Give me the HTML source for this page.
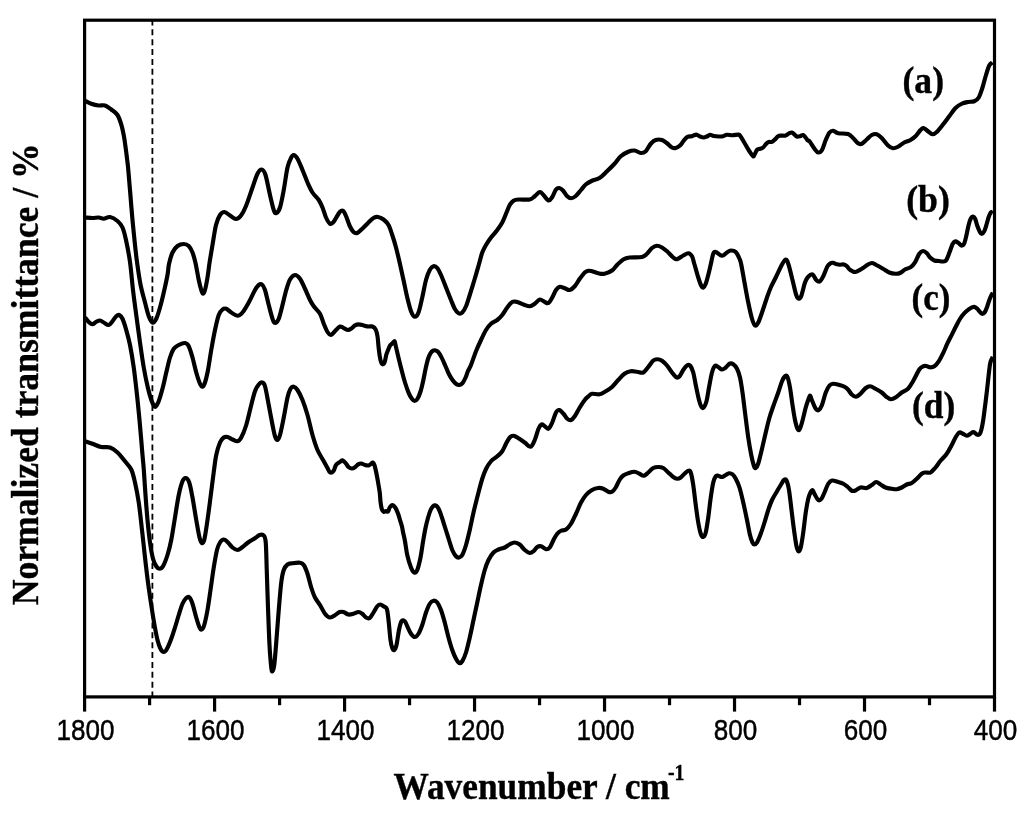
<!DOCTYPE html>
<html><head><meta charset="utf-8"><title>FTIR spectra</title>
<style>
html,body{margin:0;padding:0;background:#fff;}
svg{display:block;}
.ax{stroke:#000;stroke-width:3.2;fill:none;stroke-linecap:butt;}
.cv path{stroke:#000;stroke-width:4.15;fill:none;stroke-linejoin:round;stroke-linecap:butt;}
.tk text{font-family:"Liberation Sans",Arial,sans-serif;font-size:30px;fill:#000;stroke:#000;stroke-width:0.45px;}
.lb text{font-family:"Liberation Serif","Times New Roman",serif;font-weight:bold;font-size:38.3px;fill:#000;stroke:#000;stroke-width:0.4px;}
.lb text.cl{font-size:37.5px;}
</style></head><body>
<svg width="1024" height="819" viewBox="0 0 1024 819">
<rect x="0" y="0" width="1024" height="819" fill="#fff"/>
<line x1="152.4" y1="19.4" x2="152.4" y2="696.9" stroke="#000" stroke-width="1.8" stroke-dasharray="6 3.885"/>
<g class="cv">
<path d="M85.00,100.80C86.04,101.29 88.96,102.97 91.25,103.75C93.54,104.53 96.46,105.21 98.75,105.50C101.04,105.79 102.92,104.83 105.00,105.50C107.08,106.17 109.17,107.92 111.25,109.50C113.33,111.08 115.79,112.37 117.50,115.00C119.21,117.63 120.42,121.70 121.50,125.30C122.58,128.90 123.32,132.90 124.00,136.60C124.68,140.30 125.07,143.60 125.60,147.50C126.13,151.40 126.75,156.25 127.20,160.00C127.65,163.75 127.80,164.58 128.30,170.00C128.80,175.42 129.50,184.17 130.20,192.50C130.90,200.83 131.70,211.25 132.50,220.00C133.30,228.75 134.22,237.75 135.00,245.00C135.78,252.25 136.27,256.83 137.20,263.50C138.13,270.17 139.30,278.50 140.60,285.00C141.90,291.50 143.64,297.29 145.00,302.50C146.36,307.71 147.50,312.92 148.75,316.25C150.00,319.58 151.25,322.08 152.50,322.50C153.75,322.92 155.00,321.25 156.25,318.75C157.50,316.25 158.75,311.88 160.00,307.50C161.25,303.12 162.50,297.92 163.75,292.50C165.00,287.08 166.62,279.75 167.50,275.00C168.38,270.25 168.17,267.75 169.00,264.00C169.83,260.25 171.08,255.50 172.50,252.50C173.92,249.50 175.62,247.42 177.50,246.00C179.38,244.58 181.88,244.00 183.75,244.00C185.62,244.00 187.29,244.58 188.75,246.00C190.21,247.42 191.38,249.67 192.50,252.50C193.62,255.33 194.46,258.42 195.50,263.00C196.54,267.58 197.79,275.50 198.75,280.00C199.71,284.50 200.54,287.71 201.25,290.00C201.96,292.29 202.38,293.75 203.00,293.75C203.62,293.75 204.25,292.71 205.00,290.00C205.75,287.29 206.75,282.00 207.50,277.50C208.25,273.00 208.67,268.42 209.50,263.00C210.33,257.58 211.42,251.33 212.50,245.00C213.58,238.67 214.75,230.00 216.00,225.00C217.25,220.00 218.58,217.17 220.00,215.00C221.42,212.83 222.83,211.92 224.50,212.00C226.17,212.08 228.08,214.33 230.00,215.50C231.92,216.67 234.17,219.00 236.00,219.00C237.83,219.00 239.33,217.67 241.00,215.50C242.67,213.33 244.08,210.67 246.00,206.00C247.92,201.33 250.58,192.88 252.50,187.50C254.42,182.12 255.96,176.75 257.50,173.75C259.04,170.75 260.42,169.29 261.75,169.50C263.08,169.71 264.12,170.75 265.50,175.00C266.88,179.25 268.62,189.17 270.00,195.00C271.38,200.83 272.71,207.00 273.75,210.00C274.79,213.00 275.21,213.42 276.25,213.00C277.29,212.58 278.75,211.33 280.00,207.50C281.25,203.67 282.50,196.67 283.75,190.00C285.00,183.33 286.25,172.92 287.50,167.50C288.75,162.08 290.21,159.58 291.25,157.50C292.29,155.42 292.71,154.79 293.75,155.00C294.79,155.21 296.04,156.25 297.50,158.75C298.96,161.25 300.83,166.04 302.50,170.00C304.17,173.96 305.83,178.75 307.50,182.50C309.17,186.25 310.62,189.58 312.50,192.50C314.38,195.42 317.08,197.50 318.75,200.00C320.42,202.50 321.29,204.58 322.50,207.50C323.71,210.42 324.75,214.79 326.00,217.50C327.25,220.21 328.83,222.92 330.00,223.75C331.17,224.58 332.00,223.46 333.00,222.50C334.00,221.54 334.88,219.75 336.00,218.00C337.12,216.25 338.58,213.21 339.75,212.00C340.92,210.79 341.96,210.08 343.00,210.75C344.04,211.42 344.88,213.46 346.00,216.00C347.12,218.54 348.50,223.33 349.75,226.00C351.00,228.67 352.25,230.83 353.50,232.00C354.75,233.17 355.79,233.54 357.25,233.00C358.71,232.46 360.38,230.50 362.25,228.75C364.12,227.00 366.62,224.29 368.50,222.50C370.38,220.71 371.92,218.92 373.50,218.00C375.08,217.08 376.33,216.75 378.00,217.00C379.67,217.25 381.75,218.17 383.50,219.50C385.25,220.83 387.04,222.42 388.50,225.00C389.96,227.58 391.00,231.25 392.25,235.00C393.50,238.75 394.75,242.83 396.00,247.50C397.25,252.17 398.50,257.58 399.75,263.00C401.00,268.42 402.25,274.25 403.50,280.00C404.75,285.75 406.00,292.29 407.25,297.50C408.50,302.71 409.75,308.04 411.00,311.25C412.25,314.46 413.50,316.54 414.75,316.75C416.00,316.96 417.25,315.71 418.50,312.50C419.75,309.29 421.00,302.92 422.25,297.50C423.50,292.08 424.75,284.58 426.00,280.00C427.25,275.42 428.50,272.29 429.75,270.00C431.00,267.71 432.25,266.58 433.50,266.25C434.75,265.92 436.00,266.54 437.25,268.00C438.50,269.46 439.54,271.75 441.00,275.00C442.46,278.25 444.33,283.33 446.00,287.50C447.67,291.67 449.54,296.46 451.00,300.00C452.46,303.54 453.50,306.54 454.75,308.75C456.00,310.96 457.25,312.62 458.50,313.25C459.75,313.88 461.00,313.67 462.25,312.50C463.50,311.33 464.75,309.17 466.00,306.25C467.25,303.33 468.29,299.58 469.75,295.00C471.21,290.42 473.21,283.92 474.75,278.75C476.29,273.58 477.75,268.38 479.00,264.00C480.25,259.62 481.08,255.67 482.25,252.50C483.42,249.33 484.54,247.50 486.00,245.00C487.46,242.50 489.12,240.00 491.00,237.50C492.88,235.00 495.38,232.50 497.25,230.00C499.12,227.50 500.79,225.21 502.25,222.50C503.71,219.79 504.75,216.67 506.00,213.75C507.25,210.83 508.50,207.17 509.75,205.00C511.00,202.83 512.04,201.67 513.50,200.75C514.96,199.83 515.79,199.71 518.50,199.50C521.21,199.29 527.04,200.04 529.75,199.50C532.46,198.96 533.08,197.50 534.75,196.25C536.42,195.00 538.29,192.21 539.75,192.00C541.21,191.79 542.04,193.58 543.50,195.00C544.96,196.42 547.04,200.17 548.50,200.50C549.96,200.83 551.00,198.83 552.25,197.00C553.50,195.17 554.83,191.00 556.00,189.50C557.17,188.00 558.08,187.83 559.25,188.00C560.42,188.17 561.67,189.12 563.00,190.50C564.33,191.88 565.92,194.96 567.25,196.25C568.58,197.54 569.62,198.25 571.00,198.25C572.38,198.25 573.83,197.62 575.50,196.25C577.17,194.88 579.25,192.00 581.00,190.00C582.75,188.00 584.17,185.79 586.00,184.25C587.83,182.71 589.75,181.79 592.00,180.75C594.25,179.71 597.00,179.58 599.50,178.00C602.00,176.42 604.50,173.62 607.00,171.25C609.50,168.88 612.21,166.25 614.50,163.75C616.79,161.25 618.46,158.25 620.75,156.25C623.04,154.25 625.96,152.71 628.25,151.75C630.54,150.79 632.42,150.29 634.50,150.50C636.58,150.71 638.88,152.88 640.75,153.00C642.62,153.12 644.08,152.79 645.75,151.25C647.42,149.71 649.08,145.62 650.75,143.75C652.42,141.88 653.88,140.62 655.75,140.00C657.62,139.38 660.12,139.46 662.00,140.00C663.88,140.54 665.33,142.00 667.00,143.25C668.67,144.50 670.54,146.71 672.00,147.50C673.46,148.29 674.42,148.32 675.75,148.00C677.08,147.68 678.67,146.83 680.00,145.60C681.33,144.37 682.50,142.05 683.75,140.60C685.00,139.15 686.14,137.62 687.50,136.90C688.86,136.18 690.44,136.63 691.90,136.25C693.36,135.87 694.90,134.56 696.25,134.60C697.60,134.64 698.75,136.02 700.00,136.50C701.25,136.98 702.60,137.50 703.75,137.50C704.90,137.50 705.86,136.96 706.90,136.50C707.94,136.04 708.86,134.83 710.00,134.75C711.14,134.67 712.29,135.71 713.75,136.00C715.21,136.29 717.19,136.46 718.75,136.50C720.31,136.54 721.74,136.54 723.10,136.25C724.46,135.96 725.33,134.92 726.90,134.75C728.47,134.58 730.57,135.28 732.50,135.25C734.43,135.22 737.15,134.41 738.50,134.60C739.85,134.79 739.52,134.88 740.60,136.40C741.68,137.93 743.53,141.28 745.00,143.75C746.47,146.22 748.05,149.17 749.40,151.25C750.75,153.33 752.17,155.83 753.10,156.25C754.03,156.67 754.37,154.79 755.00,153.75C755.63,152.71 756.07,150.83 756.90,150.00C757.73,149.17 758.97,149.17 760.00,148.75C761.03,148.33 762.06,148.33 763.10,147.50C764.14,146.67 765.31,144.68 766.25,143.75C767.19,142.82 767.81,142.21 768.75,141.90C769.69,141.59 770.86,142.32 771.90,141.90C772.94,141.48 773.97,140.34 775.00,139.40C776.03,138.46 777.06,136.88 778.10,136.25C779.14,135.62 780.00,135.71 781.25,135.60C782.50,135.49 784.35,135.95 785.60,135.60C786.85,135.25 787.70,134.02 788.75,133.50C789.80,132.98 790.96,132.35 791.90,132.50C792.84,132.65 793.57,133.73 794.40,134.40C795.23,135.07 795.97,136.19 796.90,136.50C797.83,136.81 798.97,136.50 800.00,136.25C801.03,136.00 802.17,134.79 803.10,135.00C804.03,135.21 804.80,136.57 805.60,137.50C806.40,138.43 807.25,139.97 807.90,140.60C808.55,141.22 808.40,139.89 809.50,141.25C810.60,142.61 813.04,146.88 814.50,148.75C815.96,150.62 817.00,152.29 818.25,152.50C819.50,152.71 820.75,152.08 822.00,150.00C823.25,147.92 824.50,142.92 825.75,140.00C827.00,137.08 828.25,134.04 829.50,132.50C830.75,130.96 831.79,130.62 833.25,130.75C834.71,130.88 835.79,132.71 838.25,133.25C840.71,133.79 845.54,133.21 848.00,134.00C850.46,134.79 851.33,136.46 853.00,138.00C854.67,139.54 856.54,142.29 858.00,143.25C859.46,144.21 860.29,144.38 861.75,143.75C863.21,143.12 865.08,140.96 866.75,139.50C868.42,138.04 870.08,135.88 871.75,135.00C873.42,134.12 875.08,133.75 876.75,134.25C878.42,134.75 879.88,136.12 881.75,138.00C883.62,139.88 886.12,143.79 888.00,145.50C889.88,147.21 891.33,148.04 893.00,148.25C894.67,148.46 896.12,147.71 898.00,146.75C899.88,145.79 902.17,143.62 904.25,142.50C906.33,141.38 908.62,141.04 910.50,140.00C912.38,138.96 913.83,137.92 915.50,136.25C917.17,134.58 919.17,131.38 920.50,130.00C921.83,128.62 922.25,127.79 923.50,128.00C924.75,128.21 926.50,130.21 928.00,131.25C929.50,132.29 931.04,134.12 932.50,134.25C933.96,134.38 935.00,133.62 936.75,132.00C938.50,130.38 940.92,127.12 943.00,124.50C945.08,121.88 947.17,119.00 949.25,116.25C951.33,113.50 953.42,110.08 955.50,108.00C957.58,105.92 959.67,104.75 961.75,103.75C963.83,102.75 965.92,102.42 968.00,102.00C970.08,101.58 972.46,102.00 974.25,101.25C976.04,100.50 977.38,99.79 978.75,97.50C980.12,95.21 981.29,91.25 982.50,87.50C983.71,83.75 984.88,78.67 986.00,75.00C987.12,71.33 988.17,67.58 989.25,65.50C990.33,63.42 991.96,63.00 992.50,62.50"/>
<path d="M85.00,217.50C86.25,217.58 90.21,218.00 92.50,218.00C94.79,218.00 96.88,217.38 98.75,217.50C100.62,217.62 101.88,218.83 103.75,218.75C105.62,218.67 107.71,216.62 110.00,217.00C112.29,217.38 115.42,219.25 117.50,221.00C119.58,222.75 121.08,224.33 122.50,227.50C123.92,230.67 124.75,234.25 126.00,240.00C127.25,245.75 128.83,253.67 130.00,262.00C131.17,270.33 131.96,281.17 133.00,290.00C134.04,298.83 135.08,306.25 136.25,315.00C137.42,323.75 138.75,333.75 140.00,342.50C141.25,351.25 142.45,360.00 143.75,367.50C145.05,375.00 146.51,382.00 147.80,387.50C149.09,393.00 150.50,397.50 151.50,400.50C152.50,403.50 153.12,404.48 153.80,405.50C154.48,406.52 154.80,407.27 155.60,406.60C156.40,405.93 157.40,404.68 158.60,401.50C159.80,398.32 161.53,392.33 162.80,387.50C164.08,382.67 165.05,377.50 166.25,372.50C167.45,367.50 168.75,361.46 170.00,357.50C171.25,353.54 172.29,350.83 173.75,348.75C175.21,346.67 176.88,345.96 178.75,345.00C180.62,344.04 183.33,342.79 185.00,343.00C186.67,343.21 187.50,343.83 188.75,346.25C190.00,348.67 191.25,353.12 192.50,357.50C193.75,361.88 195.00,368.12 196.25,372.50C197.50,376.88 198.96,381.38 200.00,383.75C201.04,386.12 201.67,386.96 202.50,386.75C203.33,386.54 204.08,385.29 205.00,382.50C205.92,379.71 206.96,375.42 208.00,370.00C209.04,364.58 210.08,356.67 211.25,350.00C212.42,343.33 213.75,335.83 215.00,330.00C216.25,324.17 217.50,318.42 218.75,315.00C220.00,311.58 221.25,310.54 222.50,309.50C223.75,308.46 224.79,308.25 226.25,308.75C227.71,309.25 229.38,311.33 231.25,312.50C233.12,313.67 235.62,315.75 237.50,315.75C239.38,315.75 240.62,314.71 242.50,312.50C244.38,310.29 246.67,306.25 248.75,302.50C250.83,298.75 253.33,292.92 255.00,290.00C256.67,287.08 257.58,285.92 258.75,285.00C259.92,284.08 260.96,283.67 262.00,284.50C263.04,285.33 263.88,286.58 265.00,290.00C266.12,293.42 267.50,300.21 268.75,305.00C270.00,309.79 271.46,315.75 272.50,318.75C273.54,321.75 273.96,323.00 275.00,323.00C276.04,323.00 277.50,321.75 278.75,318.75C280.00,315.75 281.25,309.79 282.50,305.00C283.75,300.21 285.00,294.25 286.25,290.00C287.50,285.75 288.54,282.00 290.00,279.50C291.46,277.00 293.33,275.12 295.00,275.00C296.67,274.88 298.33,276.46 300.00,278.75C301.67,281.04 303.33,285.21 305.00,288.75C306.67,292.29 308.54,297.08 310.00,300.00C311.46,302.92 312.08,303.96 313.75,306.25C315.42,308.54 318.33,310.83 320.00,313.75C321.67,316.67 322.50,320.71 323.75,323.75C325.00,326.79 326.33,330.12 327.50,332.00C328.67,333.88 329.71,334.92 330.75,335.00C331.79,335.08 332.88,333.33 333.75,332.50C334.62,331.67 334.96,331.00 336.00,330.00C337.04,329.00 338.71,326.82 340.00,326.50C341.29,326.18 342.40,327.52 343.75,328.10C345.10,328.68 346.74,330.00 348.10,330.00C349.46,330.00 350.75,328.87 351.90,328.10C353.05,327.33 353.86,326.02 355.00,325.40C356.14,324.78 357.29,324.40 358.75,324.40C360.21,324.40 362.19,325.05 363.75,325.40C365.31,325.75 366.64,326.32 368.10,326.50C369.56,326.68 371.25,326.02 372.50,326.50C373.75,326.98 374.77,327.77 375.60,329.40C376.43,331.02 377.02,333.44 377.50,336.25C377.98,339.06 378.12,342.92 378.50,346.25C378.88,349.58 379.33,353.64 379.75,356.25C380.17,358.86 380.50,360.54 381.00,361.90C381.50,363.26 382.12,364.40 382.75,364.40C383.38,364.40 384.17,363.47 384.75,361.90C385.33,360.33 385.69,356.98 386.25,355.00C386.81,353.02 387.48,351.57 388.10,350.00C388.73,348.43 389.37,346.64 390.00,345.60C390.63,344.56 391.20,344.47 391.90,343.75C392.60,343.03 393.70,341.56 394.20,341.30C394.70,341.04 394.56,341.07 394.90,342.20C395.24,343.33 395.61,345.34 396.25,348.10C396.89,350.86 397.81,354.89 398.75,358.75C399.69,362.61 400.86,367.29 401.90,371.25C402.94,375.21 403.86,378.86 405.00,382.50C406.14,386.14 407.60,390.39 408.75,393.10C409.90,395.81 410.92,397.43 411.90,398.75C412.88,400.07 413.67,401.00 414.60,401.00C415.53,401.00 416.50,400.38 417.50,398.75C418.50,397.12 419.67,394.17 420.60,391.25C421.53,388.33 422.27,385.00 423.10,381.25C423.93,377.50 424.77,372.50 425.60,368.75C426.43,365.00 427.27,361.36 428.10,358.75C428.93,356.14 429.77,354.46 430.60,353.10C431.43,351.74 432.27,351.05 433.10,350.60C433.93,350.15 434.77,350.18 435.60,350.40C436.43,350.62 437.16,350.82 438.10,351.90C439.04,352.98 440.10,354.72 441.25,356.90C442.40,359.08 443.75,362.19 445.00,365.00C446.25,367.81 447.50,371.25 448.75,373.75C450.00,376.25 451.25,378.29 452.50,380.00C453.75,381.71 455.10,383.17 456.25,384.00C457.40,384.83 458.36,385.15 459.40,385.00C460.44,384.85 461.47,384.35 462.50,383.10C463.53,381.85 464.70,379.48 465.60,377.50C466.50,375.52 467.00,373.33 467.90,371.25C468.80,369.17 469.65,368.33 471.00,365.00C472.35,361.67 474.33,355.42 476.00,351.25C477.67,347.08 479.33,343.54 481.00,340.00C482.67,336.46 484.33,332.71 486.00,330.00C487.67,327.29 489.12,325.42 491.00,323.75C492.88,322.08 495.38,321.46 497.25,320.00C499.12,318.54 500.58,317.08 502.25,315.00C503.92,312.92 505.58,309.67 507.25,307.50C508.92,305.33 510.58,302.92 512.25,302.00C513.92,301.08 515.38,301.58 517.25,302.00C519.12,302.42 521.42,303.79 523.50,304.50C525.58,305.21 527.88,306.38 529.75,306.25C531.62,306.12 533.08,304.88 534.75,303.75C536.42,302.62 538.08,299.79 539.75,299.50C541.42,299.21 543.29,301.42 544.75,302.00C546.21,302.58 547.25,303.75 548.50,303.00C549.75,302.25 551.00,299.67 552.25,297.50C553.50,295.33 554.75,291.79 556.00,290.00C557.25,288.21 558.29,287.04 559.75,286.75C561.21,286.46 563.08,287.71 564.75,288.25C566.42,288.79 568.08,290.33 569.75,290.00C571.42,289.67 573.08,288.12 574.75,286.25C576.42,284.38 578.08,281.04 579.75,278.75C581.42,276.46 583.29,273.83 584.75,272.50C586.21,271.17 587.29,270.96 588.50,270.75C589.71,270.54 590.38,270.83 592.00,271.25C593.62,271.67 596.17,272.83 598.25,273.25C600.33,273.67 602.21,274.21 604.50,273.75C606.79,273.29 609.83,272.04 612.00,270.50C614.17,268.96 615.62,266.33 617.50,264.50C619.38,262.67 621.25,260.67 623.25,259.50C625.25,258.33 626.38,257.92 629.50,257.50C632.62,257.08 639.08,257.62 642.00,257.00C644.92,256.38 645.33,255.25 647.00,253.75C648.67,252.25 650.33,249.33 652.00,248.00C653.67,246.67 655.33,245.83 657.00,245.75C658.67,245.67 660.33,246.58 662.00,247.50C663.67,248.42 665.12,249.58 667.00,251.25C668.88,252.92 671.58,256.17 673.25,257.50C674.92,258.83 675.33,259.58 677.00,259.25C678.67,258.92 681.38,256.50 683.25,255.50C685.12,254.50 686.79,253.12 688.25,253.25C689.71,253.38 690.96,254.38 692.00,256.25C693.04,258.12 693.46,260.96 694.50,264.50C695.54,268.04 697.12,273.96 698.25,277.50C699.38,281.04 700.42,284.08 701.25,285.75C702.08,287.42 702.50,287.83 703.25,287.50C704.00,287.17 704.92,285.83 705.75,283.75C706.58,281.67 707.42,278.21 708.25,275.00C709.08,271.79 709.92,268.04 710.75,264.50C711.58,260.96 712.42,255.83 713.25,253.75C714.08,251.67 714.29,251.67 715.75,252.00C717.21,252.33 720.12,255.67 722.00,255.75C723.88,255.83 725.54,253.38 727.00,252.50C728.46,251.62 729.29,250.58 730.75,250.50C732.21,250.42 734.29,250.62 735.75,252.00C737.21,253.38 738.58,256.67 739.50,258.75C740.42,260.83 740.42,260.54 741.25,264.50C742.08,268.46 743.33,276.17 744.50,282.50C745.67,288.83 747.00,296.46 748.25,302.50C749.50,308.54 750.88,314.92 752.00,318.75C753.12,322.58 753.96,324.88 755.00,325.50C756.04,326.12 757.08,324.67 758.25,322.50C759.42,320.33 760.54,316.67 762.00,312.50C763.46,308.33 765.54,301.67 767.00,297.50C768.46,293.33 769.29,290.83 770.75,287.50C772.21,284.17 773.88,281.33 775.75,277.50C777.62,273.67 780.33,267.50 782.00,264.50C783.67,261.50 784.67,259.50 785.75,259.50C786.83,259.50 787.38,261.08 788.50,264.50C789.62,267.92 791.21,274.92 792.50,280.00C793.79,285.08 795.21,291.88 796.25,295.00C797.29,298.12 797.92,298.58 798.75,298.75C799.58,298.92 800.21,298.71 801.25,296.00C802.29,293.29 803.88,285.67 805.00,282.50C806.12,279.33 806.75,278.33 808.00,277.00C809.25,275.67 811.12,274.00 812.50,274.50C813.88,275.00 815.04,278.83 816.25,280.00C817.46,281.17 818.58,282.12 819.75,281.50C820.92,280.88 821.96,278.79 823.25,276.25C824.54,273.71 826.27,268.41 827.50,266.25C828.73,264.09 829.68,263.88 830.60,263.30C831.52,262.73 831.95,262.63 833.00,262.80C834.05,262.97 835.73,263.98 836.90,264.30C838.07,264.62 838.83,264.67 840.00,264.70C841.17,264.73 842.73,264.24 843.90,264.50C845.07,264.76 846.02,265.40 847.00,266.25C847.98,267.10 848.38,268.64 849.80,269.60C851.22,270.56 853.51,272.14 855.50,272.00C857.49,271.86 859.67,270.00 861.75,268.75C863.83,267.50 866.29,265.46 868.00,264.50C869.71,263.54 870.75,263.00 872.00,263.00C873.25,263.00 873.67,263.54 875.50,264.50C877.33,265.46 880.71,267.42 883.00,268.75C885.29,270.08 887.17,271.67 889.25,272.50C891.33,273.33 893.71,273.67 895.50,273.75C897.29,273.83 898.35,273.74 900.00,273.00C901.65,272.26 903.62,270.28 905.40,269.30C907.18,268.32 909.10,268.27 910.70,267.10C912.30,265.93 913.57,264.53 915.00,262.30C916.43,260.07 917.95,255.58 919.30,253.70C920.65,251.82 921.83,251.08 923.10,251.00C924.37,250.92 925.73,252.12 926.90,253.20C928.07,254.28 928.85,256.28 930.10,257.50C931.35,258.72 932.97,259.92 934.40,260.50C935.83,261.08 937.27,260.83 938.70,261.00C940.13,261.17 941.75,261.63 943.00,261.50C944.25,261.37 945.13,261.68 946.20,260.20C947.27,258.72 948.33,255.30 949.40,252.60C950.47,249.90 951.62,245.87 952.60,244.00C953.58,242.13 954.32,241.57 955.30,241.40C956.28,241.23 957.42,242.30 958.50,243.00C959.58,243.70 960.82,245.60 961.80,245.60C962.78,245.60 963.60,244.87 964.40,243.00C965.20,241.13 965.88,237.45 966.60,234.40C967.32,231.35 967.98,227.38 968.70,224.70C969.42,222.02 970.18,219.65 970.90,218.30C971.62,216.95 972.28,216.52 973.00,216.60C973.72,216.68 974.48,217.27 975.20,218.80C975.92,220.33 976.50,223.57 977.30,225.80C978.10,228.03 979.25,230.87 980.00,232.20C980.75,233.53 981.08,233.98 981.80,233.80C982.52,233.62 983.52,232.62 984.30,231.10C985.08,229.58 985.78,227.02 986.50,224.70C987.22,222.38 987.88,219.25 988.60,217.20C989.32,215.15 990.10,213.38 990.80,212.40C991.50,211.42 992.47,211.48 992.80,211.30"/>
<path d="M85.00,317.50C85.62,318.25 87.50,320.88 88.75,322.00C90.00,323.12 91.25,324.29 92.50,324.25C93.75,324.21 95.00,322.38 96.25,321.75C97.50,321.12 98.75,320.38 100.00,320.50C101.25,320.62 102.29,321.75 103.75,322.50C105.21,323.25 107.29,325.21 108.75,325.00C110.21,324.79 111.25,322.71 112.50,321.25C113.75,319.79 115.12,317.29 116.25,316.25C117.38,315.21 118.21,314.58 119.25,315.00C120.29,315.42 121.33,316.25 122.50,318.75C123.67,321.25 125.00,325.62 126.25,330.00C127.50,334.38 128.75,338.75 130.00,345.00C131.25,351.25 132.58,359.17 133.75,367.50C134.92,375.83 136.04,386.25 137.00,395.00C137.96,403.75 138.79,412.50 139.50,420.00C140.21,427.50 140.75,434.17 141.25,440.00C141.75,445.83 142.08,450.17 142.50,455.00C142.92,459.83 143.25,462.33 143.75,469.00C144.25,475.67 144.88,486.50 145.50,495.00C146.12,503.50 146.75,512.08 147.50,520.00C148.25,527.92 149.08,536.04 150.00,542.50C150.92,548.96 151.96,554.79 153.00,558.75C154.04,562.71 155.17,564.58 156.25,566.25C157.33,567.92 158.38,568.75 159.50,568.75C160.62,568.75 161.67,568.54 163.00,566.25C164.33,563.96 166.12,559.38 167.50,555.00C168.88,550.62 170.00,546.25 171.25,540.00C172.50,533.75 173.75,525.00 175.00,517.50C176.25,510.00 177.50,501.04 178.75,495.00C180.00,488.96 181.33,484.08 182.50,481.25C183.67,478.42 184.62,477.79 185.75,478.00C186.88,478.21 188.12,479.25 189.25,482.50C190.38,485.75 191.33,491.25 192.50,497.50C193.67,503.75 195.08,513.33 196.25,520.00C197.42,526.67 198.54,533.62 199.50,537.50C200.46,541.38 201.17,543.04 202.00,543.25C202.83,543.46 203.58,542.62 204.50,538.75C205.42,534.88 206.50,526.88 207.50,520.00C208.50,513.12 209.46,505.50 210.50,497.50C211.54,489.50 212.79,479.08 213.75,472.00C214.71,464.92 215.21,459.92 216.25,455.00C217.29,450.08 218.75,445.42 220.00,442.50C221.25,439.58 222.50,438.42 223.75,437.50C225.00,436.58 226.04,436.67 227.50,437.00C228.96,437.33 230.83,438.79 232.50,439.50C234.17,440.21 236.04,441.58 237.50,441.25C238.96,440.92 239.79,440.21 241.25,437.50C242.71,434.79 244.58,430.42 246.25,425.00C247.92,419.58 249.79,410.62 251.25,405.00C252.71,399.38 253.75,394.67 255.00,391.25C256.25,387.83 257.58,385.96 258.75,384.50C259.92,383.04 260.96,382.21 262.00,382.50C263.04,382.79 263.88,382.50 265.00,386.25C266.12,390.00 267.50,398.54 268.75,405.00C270.00,411.46 271.46,419.79 272.50,425.00C273.54,430.21 274.17,433.75 275.00,436.25C275.83,438.75 276.67,440.21 277.50,440.00C278.33,439.79 278.96,438.75 280.00,435.00C281.04,431.25 282.50,423.75 283.75,417.50C285.00,411.25 286.38,402.29 287.50,397.50C288.62,392.71 289.46,390.54 290.50,388.75C291.54,386.96 292.58,386.54 293.75,386.75C294.92,386.96 296.04,387.79 297.50,390.00C298.96,392.21 300.83,395.83 302.50,400.00C304.17,404.17 305.83,409.17 307.50,415.00C309.17,420.83 310.83,429.17 312.50,435.00C314.17,440.83 315.62,445.62 317.50,450.00C319.38,454.38 322.08,458.25 323.75,461.25C325.42,464.25 326.46,466.12 327.50,468.00C328.54,469.88 329.00,472.00 330.00,472.50C331.00,473.00 332.50,472.25 333.50,471.00C334.50,469.75 334.92,466.52 336.00,465.00C337.08,463.48 338.92,462.67 340.00,461.90C341.08,461.13 341.57,460.20 342.50,460.40C343.43,460.60 344.56,461.96 345.60,463.10C346.64,464.24 347.70,466.35 348.75,467.25C349.80,468.15 350.86,468.50 351.90,468.50C352.94,468.50 353.97,467.93 355.00,467.25C356.03,466.57 357.06,465.02 358.10,464.40C359.14,463.77 360.10,463.40 361.25,463.50C362.40,463.60 363.75,464.68 365.00,465.00C366.25,465.32 367.71,465.61 368.75,465.40C369.79,465.19 370.58,464.23 371.25,463.75C371.92,463.27 372.23,462.29 372.75,462.50C373.27,462.71 373.82,463.33 374.40,465.00C374.98,466.67 375.63,469.58 376.25,472.50C376.87,475.42 377.52,479.17 378.10,482.50C378.68,485.83 379.33,489.17 379.75,492.50C380.17,495.83 380.24,499.68 380.60,502.50C380.96,505.32 381.38,507.83 381.90,509.40C382.42,510.97 383.07,511.63 383.75,511.90C384.43,512.17 385.27,511.07 386.00,511.00C386.73,510.93 387.53,511.98 388.10,511.50C388.67,511.02 388.88,509.08 389.40,508.10C389.92,507.12 390.63,506.05 391.25,505.60C391.87,505.15 392.38,504.98 393.10,505.40C393.83,505.82 394.77,506.71 395.60,508.10C396.43,509.49 397.37,511.77 398.10,513.75C398.83,515.73 399.37,517.92 400.00,520.00C400.63,522.08 401.38,524.17 401.90,526.25C402.42,528.33 402.58,530.00 403.10,532.50C403.62,535.00 404.31,537.50 405.00,541.25C405.69,545.00 406.25,550.62 407.25,555.00C408.25,559.38 409.83,564.58 411.00,567.50C412.17,570.42 413.21,572.08 414.25,572.50C415.29,572.92 416.21,572.50 417.25,570.00C418.29,567.50 419.52,562.29 420.50,557.50C421.48,552.71 422.25,546.25 423.10,541.25C423.95,536.25 424.77,531.46 425.60,527.50C426.43,523.54 427.27,520.42 428.10,517.50C428.93,514.58 429.77,511.88 430.60,510.00C431.43,508.12 432.33,507.02 433.10,506.25C433.88,505.48 434.52,505.29 435.25,505.40C435.98,505.51 436.71,505.82 437.50,506.90C438.29,507.98 439.07,509.51 440.00,511.90C440.93,514.29 442.06,518.02 443.10,521.25C444.14,524.48 445.20,527.92 446.25,531.25C447.30,534.58 448.40,538.12 449.40,541.25C450.40,544.38 451.15,547.50 452.25,550.00C453.35,552.50 454.88,555.00 456.00,556.25C457.12,557.50 457.96,557.71 459.00,557.50C460.04,557.29 461.08,557.08 462.25,555.00C463.42,552.92 464.75,549.17 466.00,545.00C467.25,540.83 468.50,535.42 469.75,530.00C471.00,524.58 472.04,518.75 473.50,512.50C474.96,506.25 477.04,498.12 478.50,492.50C479.96,486.88 481.00,482.67 482.25,478.75C483.50,474.83 484.54,471.92 486.00,469.00C487.46,466.08 489.12,463.38 491.00,461.25C492.88,459.12 495.38,457.92 497.25,456.25C499.12,454.58 500.79,453.33 502.25,451.25C503.71,449.17 504.75,446.04 506.00,443.75C507.25,441.46 508.50,438.83 509.75,437.50C511.00,436.17 512.04,435.62 513.50,435.75C514.96,435.88 516.62,437.12 518.50,438.25C520.38,439.38 522.75,441.08 524.75,442.50C526.75,443.92 528.83,447.17 530.50,446.75C532.17,446.33 533.42,443.00 534.75,440.00C536.08,437.00 537.38,431.33 538.50,428.75C539.62,426.17 540.46,424.92 541.50,424.50C542.54,424.08 543.58,425.54 544.75,426.25C545.92,426.96 547.25,429.38 548.50,428.75C549.75,428.12 551.00,425.21 552.25,422.50C553.50,419.79 554.83,414.58 556.00,412.50C557.17,410.42 558.00,409.79 559.25,410.00C560.50,410.21 562.17,412.29 563.50,413.75C564.83,415.21 566.00,417.71 567.25,418.75C568.50,419.79 569.75,420.42 571.00,420.00C572.25,419.58 573.29,418.33 574.75,416.25C576.21,414.17 578.08,410.21 579.75,407.50C581.42,404.79 583.29,401.88 584.75,400.00C586.21,398.12 587.29,397.29 588.50,396.25C589.71,395.21 590.17,394.08 592.00,393.75C593.83,393.42 597.21,394.67 599.50,394.25C601.79,393.83 603.67,392.46 605.75,391.25C607.83,390.04 609.92,388.88 612.00,387.00C614.08,385.12 616.17,382.21 618.25,380.00C620.33,377.79 622.42,375.21 624.50,373.75C626.58,372.29 628.67,371.58 630.75,371.25C632.83,370.92 634.92,371.54 637.00,371.75C639.08,371.96 641.38,373.29 643.25,372.50C645.12,371.71 646.58,369.00 648.25,367.00C649.92,365.00 651.71,361.79 653.25,360.50C654.79,359.21 656.04,359.21 657.50,359.25C658.96,359.29 660.42,359.71 662.00,360.75C663.58,361.79 665.33,363.54 667.00,365.50C668.67,367.46 670.42,370.50 672.00,372.50C673.58,374.50 675.25,376.88 676.50,377.50C677.75,378.12 678.38,377.50 679.50,376.25C680.62,375.00 682.00,371.79 683.25,370.00C684.50,368.21 685.83,366.21 687.00,365.50C688.17,364.79 689.21,364.58 690.25,365.75C691.29,366.92 692.33,369.29 693.25,372.50C694.17,375.71 694.79,380.42 695.75,385.00C696.71,389.58 698.04,396.33 699.00,400.00C699.96,403.67 700.71,405.75 701.50,407.00C702.29,408.25 702.92,408.46 703.75,407.50C704.58,406.54 705.62,404.58 706.50,401.25C707.38,397.92 708.08,392.29 709.00,387.50C709.92,382.71 711.00,376.12 712.00,372.50C713.00,368.88 713.96,366.67 715.00,365.75C716.04,364.83 717.08,366.38 718.25,367.00C719.42,367.62 720.75,369.42 722.00,369.50C723.25,369.58 724.50,368.46 725.75,367.50C727.00,366.54 728.25,364.29 729.50,363.75C730.75,363.21 732.00,363.42 733.25,364.25C734.50,365.08 735.88,366.54 737.00,368.75C738.12,370.96 739.08,373.54 740.00,377.50C740.92,381.46 741.67,386.67 742.50,392.50C743.33,398.33 744.04,405.00 745.00,412.50C745.96,420.00 747.21,430.42 748.25,437.50C749.29,444.58 750.29,450.25 751.25,455.00C752.21,459.75 753.25,463.83 754.00,466.00C754.75,468.17 755.04,468.42 755.75,468.00C756.46,467.58 757.21,466.71 758.25,463.50C759.29,460.29 760.75,453.92 762.00,448.75C763.25,443.58 764.50,437.71 765.75,432.50C767.00,427.29 768.25,421.88 769.50,417.50C770.75,413.12 771.79,410.42 773.25,406.25C774.71,402.08 776.79,396.67 778.25,392.50C779.71,388.33 780.88,383.96 782.00,381.25C783.12,378.54 784.08,376.96 785.00,376.25C785.92,375.54 786.67,375.12 787.50,377.00C788.33,378.88 789.17,382.83 790.00,387.50C790.83,392.17 791.67,399.58 792.50,405.00C793.33,410.42 794.17,416.04 795.00,420.00C795.83,423.96 796.75,427.17 797.50,428.75C798.25,430.33 798.75,430.54 799.50,429.50C800.25,428.46 800.96,426.17 802.00,422.50C803.04,418.83 804.75,411.17 805.75,407.50C806.75,403.83 807.34,402.42 808.00,400.50C808.66,398.58 809.28,396.70 809.70,396.00C810.12,395.30 810.08,395.47 810.50,396.30C810.92,397.13 811.33,398.93 812.20,401.00C813.08,403.07 814.66,407.25 815.75,408.75C816.84,410.25 817.71,410.62 818.75,410.00C819.79,409.38 820.83,407.92 822.00,405.00C823.17,402.08 824.50,395.75 825.75,392.50C827.00,389.25 828.25,386.96 829.50,385.50C830.75,384.04 831.58,383.83 833.25,383.75C834.92,383.67 837.62,384.50 839.50,385.00C841.38,385.50 843.08,386.00 844.50,386.75C845.92,387.50 846.79,388.21 848.00,389.50C849.21,390.79 850.42,393.29 851.75,394.50C853.08,395.71 854.54,396.88 856.00,396.75C857.46,396.62 858.92,395.17 860.50,393.75C862.08,392.33 863.92,389.50 865.50,388.25C867.08,387.00 868.33,386.17 870.00,386.25C871.67,386.33 873.54,387.71 875.50,388.75C877.46,389.79 879.88,391.12 881.75,392.50C883.62,393.88 885.21,395.88 886.75,397.00C888.29,398.12 889.54,399.17 891.00,399.25C892.46,399.33 893.71,398.62 895.50,397.50C897.29,396.38 899.67,393.96 901.75,392.50C903.83,391.04 906.12,390.62 908.00,388.75C909.88,386.88 911.12,384.46 913.00,381.25C914.88,378.04 917.62,371.99 919.30,369.50C920.98,367.01 921.93,366.88 923.10,366.30C924.27,365.72 925.13,365.83 926.30,366.00C927.47,366.17 928.75,367.25 930.10,367.30C931.45,367.35 932.97,367.28 934.40,366.30C935.83,365.32 937.27,363.55 938.70,361.40C940.13,359.25 941.57,356.35 943.00,353.40C944.43,350.45 945.87,346.75 947.30,343.70C948.73,340.65 950.17,337.97 951.60,335.10C953.03,332.23 954.47,329.27 955.90,326.50C957.33,323.73 958.78,320.73 960.20,318.50C961.62,316.27 962.98,314.63 964.40,313.10C965.82,311.57 967.43,310.25 968.70,309.30C969.97,308.35 971.02,307.78 972.00,307.40C972.98,307.02 973.72,306.77 974.60,307.00C975.48,307.23 976.40,307.97 977.30,308.80C978.20,309.63 979.13,311.17 980.00,312.00C980.87,312.83 981.68,313.80 982.50,313.80C983.32,313.80 984.15,313.10 984.90,312.00C985.65,310.90 986.30,309.08 987.00,307.20C987.70,305.32 988.38,302.67 989.10,300.70C989.82,298.73 990.67,296.73 991.30,295.40C991.93,294.07 992.63,293.15 992.90,292.70"/>
<path d="M85.00,441.25C86.25,441.67 89.79,442.79 92.50,443.75C95.21,444.71 98.33,446.38 101.25,447.00C104.17,447.62 107.29,446.58 110.00,447.50C112.71,448.42 115.00,450.21 117.50,452.50C120.00,454.79 122.71,458.42 125.00,461.25C127.29,464.08 129.58,465.96 131.25,469.50C132.92,473.04 133.75,477.00 135.00,482.50C136.25,488.00 137.58,494.58 138.75,502.50C139.92,510.42 140.96,520.83 142.00,530.00C143.04,539.17 144.00,548.75 145.00,557.50C146.00,566.25 146.96,574.58 148.00,582.50C149.04,590.42 150.17,597.92 151.25,605.00C152.33,612.08 153.46,619.17 154.50,625.00C155.54,630.83 156.50,636.04 157.50,640.00C158.50,643.96 159.46,646.75 160.50,648.75C161.54,650.75 162.67,652.00 163.75,652.00C164.83,652.00 165.75,650.96 167.00,648.75C168.25,646.54 169.92,642.29 171.25,638.75C172.58,635.21 173.75,631.46 175.00,627.50C176.25,623.54 177.50,618.96 178.75,615.00C180.00,611.04 181.25,606.58 182.50,603.75C183.75,600.92 185.08,599.04 186.25,598.00C187.42,596.96 188.46,596.54 189.50,597.50C190.54,598.46 191.38,600.42 192.50,603.75C193.62,607.08 195.08,613.54 196.25,617.50C197.42,621.46 198.58,625.50 199.50,627.50C200.42,629.50 200.96,629.92 201.75,629.50C202.54,629.08 203.29,628.25 204.25,625.00C205.21,621.75 206.46,615.83 207.50,610.00C208.54,604.17 209.46,597.08 210.50,590.00C211.54,582.92 212.67,574.17 213.75,567.50C214.83,560.83 215.96,554.17 217.00,550.00C218.04,545.83 218.88,544.25 220.00,542.50C221.12,540.75 222.50,539.58 223.75,539.50C225.00,539.42 226.04,540.67 227.50,542.00C228.96,543.33 230.83,546.17 232.50,547.50C234.17,548.83 235.83,550.08 237.50,550.00C239.17,549.92 240.62,548.33 242.50,547.00C244.38,545.67 246.67,543.46 248.75,542.00C250.83,540.54 253.21,539.42 255.00,538.25C256.79,537.08 258.04,535.46 259.50,535.00C260.96,534.54 262.71,534.25 263.75,535.50C264.79,536.75 265.25,536.75 265.75,542.50C266.25,548.25 266.38,559.17 266.75,570.00C267.12,580.83 267.54,595.00 268.00,607.50C268.46,620.00 268.96,635.00 269.50,645.00C270.04,655.00 270.75,663.12 271.25,667.50C271.75,671.88 272.00,671.67 272.50,671.25C273.00,670.83 273.62,669.79 274.25,665.00C274.88,660.21 275.50,651.67 276.25,642.50C277.00,633.33 277.92,620.00 278.75,610.00C279.58,600.00 280.42,589.17 281.25,582.50C282.08,575.83 282.71,573.00 283.75,570.00C284.79,567.00 286.04,565.62 287.50,564.50C288.96,563.38 290.42,563.54 292.50,563.25C294.58,562.96 298.12,562.46 300.00,562.75C301.88,563.04 302.50,563.17 303.75,565.00C305.00,566.83 306.25,570.00 307.50,573.75C308.75,577.50 310.00,583.54 311.25,587.50C312.50,591.46 313.54,594.58 315.00,597.50C316.46,600.42 318.33,602.29 320.00,605.00C321.67,607.71 323.33,611.67 325.00,613.75C326.67,615.83 328.17,617.38 330.00,617.50C331.83,617.62 334.38,615.42 336.00,614.50C337.62,613.58 338.50,612.42 339.75,612.00C341.00,611.58 342.04,611.58 343.50,612.00C344.96,612.42 346.83,614.21 348.50,614.50C350.17,614.79 351.83,614.17 353.50,613.75C355.17,613.33 357.04,612.00 358.50,612.00C359.96,612.00 361.00,612.83 362.25,613.75C363.50,614.67 364.75,616.79 366.00,617.50C367.25,618.21 368.50,618.83 369.75,618.00C371.00,617.17 372.25,614.46 373.50,612.50C374.75,610.54 376.08,607.58 377.25,606.25C378.42,604.92 379.46,604.50 380.50,604.50C381.54,604.50 382.46,605.54 383.50,606.25C384.54,606.96 385.92,606.46 386.75,608.75C387.58,611.04 387.88,614.79 388.50,620.00C389.12,625.21 389.88,635.33 390.50,640.00C391.12,644.67 391.62,646.33 392.25,648.00C392.88,649.67 393.54,650.50 394.25,650.00C394.96,649.50 395.71,648.33 396.50,645.00C397.29,641.67 398.17,633.96 399.00,630.00C399.83,626.04 400.54,622.71 401.50,621.25C402.46,619.79 403.79,620.42 404.75,621.25C405.71,622.08 406.21,624.17 407.25,626.25C408.29,628.33 409.75,631.96 411.00,633.75C412.25,635.54 413.50,637.00 414.75,637.00C416.00,637.00 417.25,635.75 418.50,633.75C419.75,631.75 421.00,628.54 422.25,625.00C423.50,621.46 424.75,616.04 426.00,612.50C427.25,608.96 428.50,605.71 429.75,603.75C431.00,601.79 432.25,600.96 433.50,600.75C434.75,600.54 436.00,600.96 437.25,602.50C438.50,604.04 439.75,606.67 441.00,610.00C442.25,613.33 443.50,617.92 444.75,622.50C446.00,627.08 447.25,632.92 448.50,637.50C449.75,642.08 451.00,646.46 452.25,650.00C453.50,653.54 454.83,656.58 456.00,658.75C457.17,660.92 458.21,662.58 459.25,663.00C460.29,663.42 461.12,663.00 462.25,661.25C463.38,659.50 464.75,656.46 466.00,652.50C467.25,648.54 468.50,642.92 469.75,637.50C471.00,632.08 472.25,625.83 473.50,620.00C474.75,614.17 476.00,608.33 477.25,602.50C478.50,596.67 479.75,590.42 481.00,585.00C482.25,579.58 483.50,574.17 484.75,570.00C486.00,565.83 487.04,562.92 488.50,560.00C489.96,557.08 491.83,554.25 493.50,552.50C495.17,550.75 496.62,550.33 498.50,549.50C500.38,548.67 502.88,548.38 504.75,547.50C506.62,546.62 508.08,545.08 509.75,544.25C511.42,543.42 513.08,542.46 514.75,542.50C516.42,542.54 518.08,543.25 519.75,544.50C521.42,545.75 523.08,548.58 524.75,550.00C526.42,551.42 528.29,552.79 529.75,553.00C531.21,553.21 532.25,552.25 533.50,551.25C534.75,550.25 536.00,547.83 537.25,547.00C538.50,546.17 539.54,545.88 541.00,546.25C542.46,546.62 544.54,549.04 546.00,549.25C547.46,549.46 548.50,549.04 549.75,547.50C551.00,545.96 552.25,542.29 553.50,540.00C554.75,537.71 556.00,535.29 557.25,533.75C558.50,532.21 559.54,531.46 561.00,530.75C562.46,530.04 564.33,530.67 566.00,529.50C567.67,528.33 569.33,526.38 571.00,523.75C572.67,521.12 574.33,517.29 576.00,513.75C577.67,510.21 579.33,505.62 581.00,502.50C582.67,499.38 584.17,497.08 586.00,495.00C587.83,492.92 589.96,491.17 592.00,490.00C594.04,488.83 596.38,488.21 598.25,488.00C600.12,487.79 601.58,488.12 603.25,488.75C604.92,489.38 606.79,491.25 608.25,491.75C609.71,492.25 610.75,492.46 612.00,491.75C613.25,491.04 614.50,489.46 615.75,487.50C617.00,485.54 618.25,482.00 619.50,480.00C620.75,478.00 621.79,476.62 623.25,475.50C624.71,474.38 626.38,473.88 628.25,473.25C630.12,472.62 632.62,471.67 634.50,471.75C636.38,471.83 637.96,473.08 639.50,473.75C641.04,474.42 642.29,475.96 643.75,475.75C645.21,475.54 646.67,473.79 648.25,472.50C649.83,471.21 651.58,468.92 653.25,468.00C654.92,467.08 656.58,467.00 658.25,467.00C659.92,467.00 661.58,467.08 663.25,468.00C664.92,468.92 666.58,471.00 668.25,472.50C669.92,474.00 671.79,475.96 673.25,477.00C674.71,478.04 675.75,478.67 677.00,478.75C678.25,478.83 679.42,478.42 680.75,477.50C682.08,476.58 683.75,474.38 685.00,473.25C686.25,472.12 687.29,470.88 688.25,470.75C689.21,470.62 689.92,470.12 690.75,472.50C691.58,474.88 692.42,479.58 693.25,485.00C694.08,490.42 694.92,498.75 695.75,505.00C696.58,511.25 697.42,517.71 698.25,522.50C699.08,527.29 699.92,531.33 700.75,533.75C701.58,536.17 702.42,537.21 703.25,537.00C704.08,536.79 704.92,535.75 705.75,532.50C706.58,529.25 707.42,523.33 708.25,517.50C709.08,511.67 709.92,503.33 710.75,497.50C711.58,491.67 712.42,486.04 713.25,482.50C714.08,478.96 714.92,477.38 715.75,476.25C716.58,475.12 717.21,475.62 718.25,475.75C719.29,475.88 720.75,477.12 722.00,477.00C723.25,476.88 724.58,475.62 725.75,475.00C726.92,474.38 727.88,473.38 729.00,473.25C730.12,473.12 731.38,473.33 732.50,474.25C733.62,475.17 734.58,476.54 735.75,478.75C736.92,480.96 738.25,483.54 739.50,487.50C740.75,491.46 742.00,497.08 743.25,502.50C744.50,507.92 745.88,514.58 747.00,520.00C748.12,525.42 749.08,531.25 750.00,535.00C750.92,538.75 751.75,540.92 752.50,542.50C753.25,544.08 753.75,544.50 754.50,544.50C755.25,544.50 755.96,544.29 757.00,542.50C758.04,540.71 759.50,537.08 760.75,533.75C762.00,530.42 763.25,526.46 764.50,522.50C765.75,518.54 767.00,513.75 768.25,510.00C769.50,506.25 770.54,503.12 772.00,500.00C773.46,496.88 775.54,493.75 777.00,491.25C778.46,488.75 779.58,486.88 780.75,485.00C781.92,483.12 783.04,480.75 784.00,480.00C784.96,479.25 785.67,478.83 786.50,480.50C787.33,482.17 788.17,485.08 789.00,490.00C789.83,494.92 790.67,503.33 791.50,510.00C792.33,516.67 793.17,523.96 794.00,530.00C794.83,536.04 795.75,542.71 796.50,546.25C797.25,549.79 797.79,551.04 798.50,551.25C799.21,551.46 799.96,550.62 800.75,547.50C801.54,544.38 802.42,538.33 803.25,532.50C804.08,526.67 804.92,518.12 805.75,512.50C806.58,506.88 807.46,502.08 808.25,498.75C809.04,495.42 809.84,493.91 810.50,492.50C811.16,491.09 811.78,490.58 812.20,490.30C812.62,490.02 812.57,490.10 813.00,490.80C813.43,491.50 813.92,492.97 814.80,494.50C815.67,496.03 817.13,499.29 818.25,500.00C819.37,500.71 820.46,500.00 821.50,498.75C822.54,497.50 823.38,495.00 824.50,492.50C825.62,490.00 827.00,485.75 828.25,483.75C829.50,481.75 830.33,480.79 832.00,480.50C833.67,480.21 836.38,481.46 838.25,482.00C840.12,482.54 841.67,482.92 843.25,483.75C844.83,484.58 846.33,485.83 847.75,487.00C849.17,488.17 850.46,490.17 851.75,490.75C853.04,491.33 854.04,491.04 855.50,490.50C856.96,489.96 858.62,487.92 860.50,487.50C862.38,487.08 864.88,488.42 866.75,488.00C868.62,487.58 870.17,486.00 871.75,485.00C873.33,484.00 874.79,482.08 876.25,482.00C877.71,481.92 878.96,483.58 880.50,484.50C882.04,485.42 883.62,486.79 885.50,487.50C887.38,488.21 889.88,488.46 891.75,488.75C893.62,489.04 895.08,489.46 896.75,489.25C898.42,489.04 900.08,488.29 901.75,487.50C903.42,486.71 905.08,485.25 906.75,484.50C908.42,483.75 910.08,483.96 911.75,483.00C913.42,482.04 915.08,480.29 916.75,478.75C918.42,477.21 920.29,474.79 921.75,473.75C923.21,472.71 924.04,472.71 925.50,472.50C926.96,472.29 928.83,473.33 930.50,472.50C932.17,471.67 933.83,469.46 935.50,467.50C937.17,465.54 938.62,463.04 940.50,460.75C942.38,458.46 944.88,456.38 946.75,453.75C948.62,451.12 950.29,447.71 951.75,445.00C953.21,442.29 954.25,439.58 955.50,437.50C956.75,435.42 958.00,433.12 959.25,432.50C960.50,431.88 961.75,433.21 963.00,433.75C964.25,434.29 965.50,435.75 966.75,435.75C968.00,435.75 969.38,434.38 970.50,433.75C971.62,433.12 972.46,431.88 973.50,432.00C974.54,432.12 975.75,434.12 976.75,434.50C977.75,434.88 978.74,435.05 979.50,434.30C980.26,433.55 980.67,432.45 981.30,430.00C981.93,427.55 982.65,423.78 983.30,419.60C983.95,415.42 984.58,409.78 985.20,404.90C985.82,400.02 986.40,395.48 987.00,390.30C987.60,385.12 988.25,378.38 988.80,373.80C989.35,369.22 989.63,365.63 990.30,362.80C990.97,359.97 992.38,357.80 992.80,356.80"/>
</g>
<rect class="ax" x="84.6" y="20.2" width="909.90" height="676.70"/>
<g class="ax"><line x1="84.60" y1="696.9" x2="84.60" y2="711.6"/><line x1="149.59" y1="696.9" x2="149.59" y2="705.2"/><line x1="214.59" y1="696.9" x2="214.59" y2="711.6"/><line x1="279.58" y1="696.9" x2="279.58" y2="705.2"/><line x1="344.57" y1="696.9" x2="344.57" y2="711.6"/><line x1="409.56" y1="696.9" x2="409.56" y2="705.2"/><line x1="474.56" y1="696.9" x2="474.56" y2="711.6"/><line x1="539.55" y1="696.9" x2="539.55" y2="705.2"/><line x1="604.54" y1="696.9" x2="604.54" y2="711.6"/><line x1="669.54" y1="696.9" x2="669.54" y2="705.2"/><line x1="734.53" y1="696.9" x2="734.53" y2="711.6"/><line x1="799.52" y1="696.9" x2="799.52" y2="705.2"/><line x1="864.51" y1="696.9" x2="864.51" y2="711.6"/><line x1="929.51" y1="696.9" x2="929.51" y2="705.2"/><line x1="994.50" y1="696.9" x2="994.50" y2="711.6"/></g>
<g class="tk"><text x="85.50" y="740" text-anchor="middle" textLength="58.0" lengthAdjust="spacingAndGlyphs">1800</text><text x="215.49" y="740" text-anchor="middle" textLength="58.0" lengthAdjust="spacingAndGlyphs">1600</text><text x="345.47" y="740" text-anchor="middle" textLength="58.0" lengthAdjust="spacingAndGlyphs">1400</text><text x="475.46" y="740" text-anchor="middle" textLength="58.0" lengthAdjust="spacingAndGlyphs">1200</text><text x="605.44" y="740" text-anchor="middle" textLength="58.0" lengthAdjust="spacingAndGlyphs">1000</text><text x="735.43" y="740" text-anchor="middle" textLength="43.5" lengthAdjust="spacingAndGlyphs">800</text><text x="865.41" y="740" text-anchor="middle" textLength="43.5" lengthAdjust="spacingAndGlyphs">600</text><text x="995.40" y="740" text-anchor="middle" textLength="43.5" lengthAdjust="spacingAndGlyphs">400</text></g>
<g class="lb">
<text x="902.5" y="93" textLength="41.5" class="cl" lengthAdjust="spacingAndGlyphs">(a)</text>
<text x="906.2" y="211.5" textLength="43.7" class="cl" lengthAdjust="spacingAndGlyphs">(b)</text>
<text x="911.5" y="310" textLength="38.8" class="cl" lengthAdjust="spacingAndGlyphs">(c)</text>
<text x="912" y="417.7" textLength="43.2" class="cl" lengthAdjust="spacingAndGlyphs">(d)</text>
<text x="393.5" y="798.9" textLength="276.3" lengthAdjust="spacingAndGlyphs">Wavenumber / cm</text>
<text x="668" y="780.3" textLength="16.5" lengthAdjust="spacingAndGlyphs" style="font-size:22.5px">-1</text>
<text transform="translate(37.8,605.3) rotate(-90)" x="0" y="0" textLength="462" lengthAdjust="spacingAndGlyphs">Normalized transmittance / %</text>
</g>
</svg>
</body></html>
